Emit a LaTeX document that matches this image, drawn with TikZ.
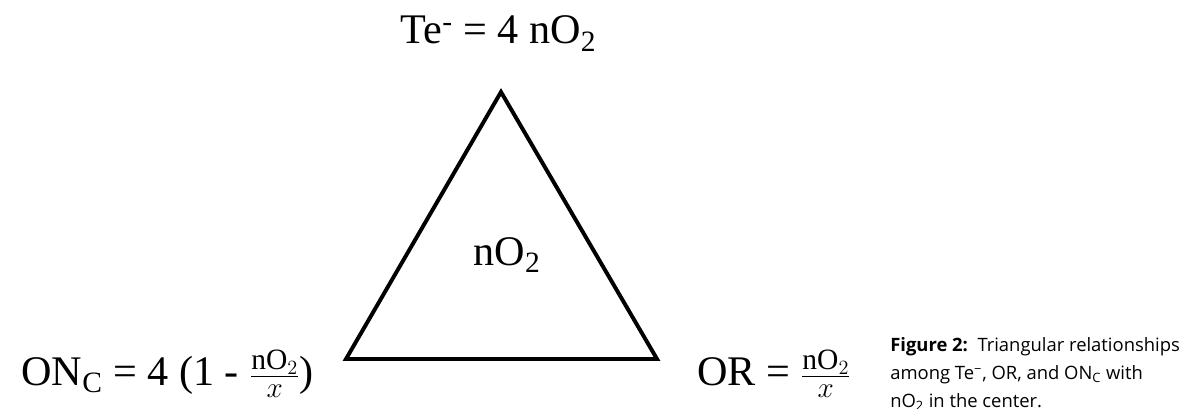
\documentclass[tikz,border=0pt]{standalone}
\usepackage{amsmath}
\usepackage{fontspec}
\setmainfont{Liberation Serif}
\newfontfamily\capfont{Open Sans}
\usepackage{tikz}
\usetikzlibrary{positioning}

\begin{document}
\begin{tikzpicture}[
    relation/.style={
        inner sep=0pt,
        font=\fontsize{30}{34}\selectfont
    },
    tri/.style={
        draw=black,
        line width=2.8pt,
        line join=miter
    },
    caption/.style={
        inner sep=0pt,
        align=left,
        font=\capfont\fontsize{13.1}{19.6}\selectfont
    }
]
\useasboundingbox (0,0) rectangle (29.6,-10.225);

% --- Triangle ---
\coordinate (tri_top) at (12.525,-2.3);
\coordinate (tri_left) at (8.65,-8.975);
\coordinate (tri_right) at (16.425,-8.975);
\draw[tri] (tri_top) -- (tri_left) -- (tri_right) -- cycle;

\node[relation, anchor=base] (no2) at (12.675,-6.625) {nO\textsubscript{2}};

% --- Relations at the corners ---
\node[relation, anchor=base] (te) at ([xshift=-0.06cm, yshift=1.2cm]tri_top) {Te\textsuperscript{-} = 4 nO\textsubscript{2}};
\node[relation, anchor=base east] (onc) at ([xshift=-0.8cm, yshift=-0.65cm]tri_left) {ON\textsubscript{C} = 4 (1 - \(\frac{\mathrm{nO}_2}{x}\))};
\node[relation, anchor=base west] (or) at ([xshift=1.0cm, yshift=-0.65cm]tri_right) {OR = \(\frac{\mathrm{nO}_2}{x}\)};

% --- Caption ---
\node[caption, anchor=base west] (cap) at (22.25,-10.175) {\textbf{Figure 2:}\ \ Triangular relationships\\among Te\textsuperscript{−}, OR, and ON\textsubscript{C} with\\nO\textsubscript{2} in the center.};

\end{tikzpicture}
\end{document}
